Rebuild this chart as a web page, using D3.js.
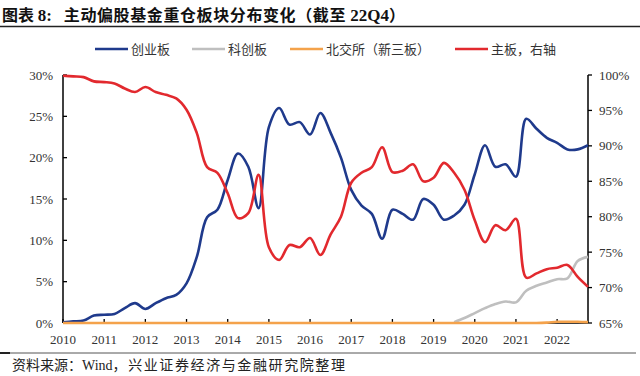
<!DOCTYPE html>
<html>
<head>
<meta charset="utf-8">
<script src="https://cdn.jsdelivr.net/npm/d3@7"></script>
<style>
  body { margin: 0; background: #fff; }
  svg { display: block; }
</style>
</head>
<body>
<svg id="chart"></svg>
<script>
/* Data: quarterly, 2010Q1 .. 2022Q4 */
const years = [2010, 2011, 2012, 2013, 2014, 2015, 2016, 2017, 2018, 2019, 2020, 2021, 2022];
const quarters = years.flatMap(y => ["Q1", "Q2", "Q3", "Q4"].map(q => y + q));

const seriesNames = ["创业板", "科创板", "北交所（新三板）", "主板，右轴"];

/* 创业板, % (left axis) */
const chinext = [
  0.1, 0.2, 0.3, 0.9, 1.0, 1.1, 1.8, 2.4, 1.7, 2.4, 3.0, 3.4,
  4.8, 8.0, 12.8, 13.7, 17.3, 20.5, 18.9, 13.9, 23.7, 26.0, 24.0, 24.3,
  22.8, 25.4, 23.0, 20.0, 16.1, 14.2, 13.2, 10.2, 13.7, 13.2, 12.5, 15.0,
  14.3, 12.5, 13.0, 14.3, 18.0, 21.5, 18.9, 19.2, 17.7, 24.7, 23.5, 22.4,
  21.8, 21.0, 21.0, 21.5
];
/* 科创板, % (left axis), listed from 2019Q3 */
const star = [
  null, null, null, null, null, null, null, null, null, null, null, null,
  null, null, null, null, null, null, null, null, null, null, null, null,
  null, null, null, null, null, null, null, null, null, null, null, null,
  null, null, 0.1, 0.6, 1.2, 1.8, 2.3, 2.6, 2.5, 3.9, 4.5, 4.9,
  5.3, 5.4, 7.5, 8.0
];
/* 北交所（新三板）, % (left axis) */
const bse = [
  0, 0, 0, 0, 0, 0, 0, 0, 0, 0, 0, 0,
  0, 0, 0, 0, 0, 0, 0, 0, 0, 0, 0, 0,
  0, 0, 0, 0, 0, 0, 0, 0, 0, 0, 0, 0,
  0, 0, 0, 0, 0, 0, 0, 0, 0, 0, 0, 0.05,
  0.15, 0.15, 0.15, 0.1
];
/* 主板, % (right axis) */
const mainBoard = [
  99.9, 99.8, 99.7, 99.1, 99.0, 98.8, 98.1, 97.6, 98.3, 97.6, 97.2, 96.7,
  95.1, 91.8, 87.0, 86.2, 83.3, 79.8, 80.5, 85.9, 75.7, 73.9, 76.0, 75.7,
  77.0, 74.6, 77.5, 80.0, 84.8, 86.2, 87.0, 89.8, 86.3, 86.5, 87.4, 85.0,
  85.5, 87.6, 86.2, 83.8, 79.5, 76.4, 78.8, 78.1, 79.7, 71.4, 72.0, 72.6,
  72.8, 73.2, 71.5, 70.1
];

const leftTicks = [0, 5, 10, 15, 20, 25, 30];
const rightTicks = [65, 70, 75, 80, 85, 90, 95, 100];

const colors = ["#1F3A8C", "#BFBFBF", "#F4A24B", "#E2292E"];

/* Layout */
const W = 640, H = 376;
const plot = { left: 63, right: 588, top: 75, bottom: 323 };

const svg = d3.select("#chart").attr("width", W).attr("height", H);

const cjk = "'Noto Sans CJK SC', 'Noto Sans', sans-serif";
const serif = "'Liberation Serif', 'DejaVu Serif', serif";

/* Title */
const title = svg.append("text")
    .attr("x", 2)
    .attr("y", 21)
    .style("font-family", cjk)
    .style("font-weight", "bold")
    .style("font-size", "16px")
    .style("fill", "#111");
title.append("tspan").text("图表 ");
title.append("tspan").style("font-family", serif).style("font-size", "17px").text("8:");
title.append("tspan").attr("dx", 12).style("letter-spacing", "0.6px").text("主动偏股基金重仓板块分布变化（截至 ");
title.append("tspan").style("font-family", serif).style("font-size", "17px").text("22Q4");
title.append("tspan").text("）");

svg.append("line")
    .attr("x1", 0).attr("x2", 640)
    .attr("y1", 26.5).attr("y2", 26.5)
    .attr("stroke", "#222").attr("stroke-width", 1.3);

/* Scales */
const x = d3.scalePoint().domain(quarters).range([plot.left, plot.right]);
const yL = d3.scaleLinear().domain([0, 30]).range([plot.bottom, plot.top]);
const yR = d3.scaleLinear().domain([65, 100]).range([plot.bottom, plot.top]);

/* Axes */
svg.append("line")
    .attr("x1", plot.left).attr("x2", plot.left)
    .attr("y1", plot.top).attr("y2", plot.bottom)
    .attr("stroke", "#000").attr("stroke-width", 1.5);
svg.append("line")
    .attr("x1", plot.right).attr("x2", plot.right)
    .attr("y1", plot.top).attr("y2", plot.bottom)
    .attr("stroke", "#000").attr("stroke-width", 1.5);
svg.append("line")
    .attr("x1", plot.left).attr("x2", plot.right)
    .attr("y1", plot.bottom).attr("y2", plot.bottom)
    .attr("stroke", "#000").attr("stroke-width", 1.5);

/* Left ticks and labels */
svg.selectAll(".ltick")
    .data(leftTicks)
    .join("line")
      .attr("x1", plot.left).attr("x2", plot.left + 4)
      .attr("y1", d => yL(d)).attr("y2", d => yL(d))
      .attr("stroke", "#000").attr("stroke-width", 1.3);
svg.selectAll(".llabel")
    .data(leftTicks)
    .join("text")
      .attr("x", 53)
      .attr("y", d => yL(d))
      .attr("dy", "0.35em")
      .attr("text-anchor", "end")
      .style("font-family", serif)
      .style("font-size", "13px")
      .style("fill", "#333")
      .text(d => d + "%");

/* Right ticks and labels */
svg.selectAll(".rtick")
    .data(rightTicks)
    .join("line")
      .attr("x1", plot.right).attr("x2", plot.right + 4)
      .attr("y1", d => yR(d)).attr("y2", d => yR(d))
      .attr("stroke", "#000").attr("stroke-width", 1.3);
svg.selectAll(".rlabel")
    .data(rightTicks)
    .join("text")
      .attr("x", 599)
      .attr("y", d => yR(d))
      .attr("dy", "0.35em")
      .style("font-family", serif)
      .style("font-size", "13px")
      .style("fill", "#333")
      .text(d => d + "%");

/* Bottom ticks and year labels */
svg.selectAll(".xtick")
    .data(years)
    .join("line")
      .attr("x1", d => x(d + "Q1")).attr("x2", d => x(d + "Q1"))
      .attr("y1", plot.bottom).attr("y2", plot.bottom - 4)
      .attr("stroke", "#000").attr("stroke-width", 1.3);
svg.selectAll(".xlabel")
    .data(years)
    .join("text")
      .attr("x", d => x(d + "Q1"))
      .attr("y", 339)
      .attr("dy", "0.35em")
      .attr("text-anchor", "middle")
      .style("font-family", serif)
      .style("font-size", "13px")
      .style("fill", "#333")
      .text(d => d);

/* Lines */
const series = [
  { values: chinext, y: yL },
  { values: star, y: yL },
  { values: bse, y: yL },
  { values: mainBoard, y: yR }
];

series.forEach((s, i) => {
  const line = d3.line()
      .defined(d => d != null)
      .x((d, j) => x(quarters[j]))
      .y(d => s.y(d))
      .curve(d3.curveCatmullRom.alpha(0.5));
  svg.append("path")
      .attr("fill", "none")
      .attr("stroke", colors[i])
      .attr("stroke-width", 2.6)
      .attr("stroke-linejoin", "round")
      .attr("d", line(s.values));
});

/* Legend */
const legendX = [95, 192, 290, 455];
const legend = svg.selectAll(".legend")
    .data(seriesNames)
    .join("g")
      .attr("transform", (d, i) => `translate(${legendX[i]}, 49)`);
legend.append("line")
    .attr("x1", 0).attr("x2", 33)
    .attr("stroke", (d, i) => colors[i])
    .attr("stroke-width", 2.6);
legend.append("text")
    .attr("x", 36)
    .attr("dy", "0.35em")
    .style("font-family", cjk)
    .style("font-size", "13px")
    .style("fill", "#333")
    .text(d => d);

/* Source */
svg.append("line")
    .attr("x1", 0).attr("x2", 636)
    .attr("y1", 353).attr("y2", 353)
    .attr("stroke", "#555").attr("stroke-width", 1);
svg.append("line")
    .attr("x1", 0).attr("x2", 10)
    .attr("y1", 353).attr("y2", 353)
    .attr("stroke", "#222").attr("stroke-width", 2);
const src = svg.append("text")
    .attr("x", 12)
    .attr("y", 365)
    .attr("dy", "0.35em")
    .style("font-family", cjk)
    .style("font-size", "14px")
    .style("fill", "#222");
src.append("tspan").text("资料来源：");
src.append("tspan").style("font-family", serif).text("Wind");
src.append("tspan").style("letter-spacing", "1.6px").text("，兴业证券经济与金融研究院整理");
</script>
</body>
</html>
